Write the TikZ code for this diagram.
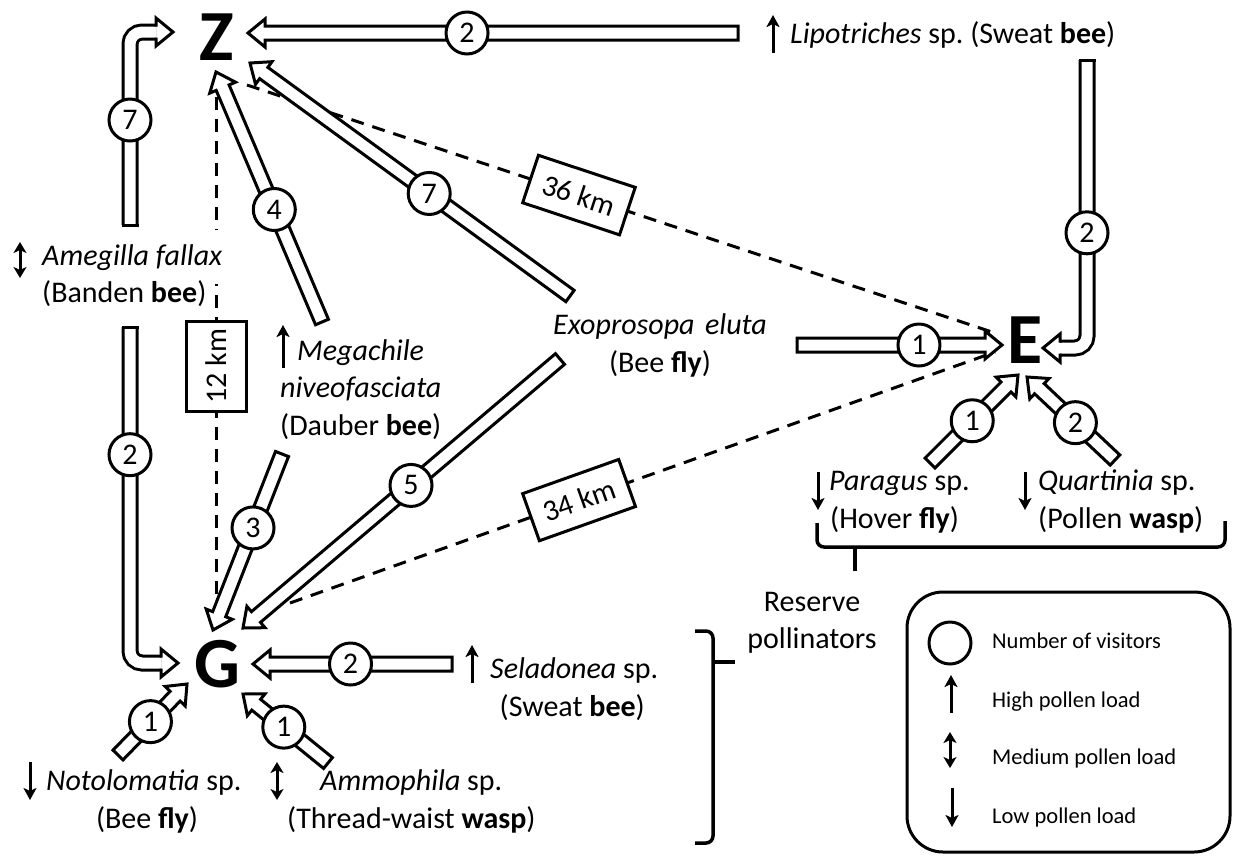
\documentclass[tikz,border=0pt]{standalone}
\usepackage{fontspec}
\setmainfont{Carlito}
\usetikzlibrary{calc,arrows.meta}

% block arrow geometry (half shaft width, half head width, head length)
\newcommand\baBW{7pt}
\newcommand\baHW{14pt}
\newcommand\baHL{17pt}

\tikzset{
  outl/.style={line width=3pt},
  blk/.style={outl, fill=white, line join=miter},
  dbl/.style={line width=3pt, double=white, double distance=11pt, rounded corners=12pt},
  num/.style={circle, draw, line width=3pt, fill=white, minimum size=42pt, inner sep=0pt,
              font=\fontsize{30}{32}\selectfont},
  big/.style={font=\fontsize{72}{72}\selectfont\bfseries, inner sep=0pt},
  lbl/.style={font=\fontsize{30}{39}\selectfont, inner sep=0pt},
  leg/.style={font=\fontsize{22.5}{27}\selectfont, inner sep=0pt, anchor=base west},
  dsh/.style={line width=3pt, dash pattern=on 13pt off 9pt},
  kmbox/.style={solid, draw, line width=3pt, fill=white, inner sep=0pt,
                minimum width=102pt, minimum height=50pt, font=\fontsize{30}{36}\selectfont},
  load/.style={line width=3pt, -{Stealth[length=12pt,width=13pt,inset=3pt]}},
  loadud/.style={line width=3pt, {Stealth[length=11pt,width=13pt,inset=3pt]}-{Stealth[length=11pt,width=13pt,inset=3pt]}},
  brc/.style={line width=3.5pt, rounded corners=7pt},
}

% straight block arrow: tail, tip, position of the count circle, count
\newcommand\blockarrow[4]{%
  \coordinate (ba-h) at ($(#2)!\baHL!(#1)$);
  \draw[blk] ($(#1)!\baBW!90:(#2)$) -- ($(ba-h)!\baBW!90:(#2)$) -- ($(ba-h)!\baHW!90:(#2)$)
    -- (#2) -- ($(ba-h)!\baHW!-90:(#2)$) -- ($(ba-h)!\baBW!-90:(#2)$) -- ($(#1)!\baBW!-90:(#2)$) -- cycle;
  \path (#1) -- (#2) node[num, pos=#3] (#1-n) {#4};
}

% block arrow with one rounded bend: tail, bend, tip, position of the count circle, count
\newcommand\bentarrow[5]{%
  \coordinate (ba-h) at ($(#3)!\baHL!(#2)$);
  \draw[dbl] (#1) -- (#2) -- (ba-h);
  \draw[outl, line cap=rect] ($(#1)!\baBW!90:(#2)$) -- ($(#1)!\baBW!-90:(#2)$);
  \draw[outl, line cap=rect] ($(ba-h)!\baBW!90:(#3)$) -- ($(ba-h)!\baHW!90:(#3)$) -- (#3)
    -- ($(ba-h)!\baHW!-90:(#3)$) -- ($(ba-h)!\baBW!-90:(#3)$);
  \path (#1) -- (#2) node[num, pos=#4] (#1-n) {#5};
}

\begin{document}
\begin{tikzpicture}[x=1pt,y=-1pt]
\useasboundingbox (0,0) rectangle (1234,855);

% sites
\node[big, anchor=base] (Z) at (217,60) {Z};
\node[big, anchor=base] (E) at (1025,363) {E};
\node[big, anchor=base] (G) at (217,687) {G};

% distances between sites
\coordinate (zg-a) at (216,97);   \coordinate (zg-b) at (216,620);
\coordinate (ze-a) at (247,85);   \coordinate (ze-b) at (998,334);
\coordinate (ge-a) at (290,603);  \coordinate (ge-b) at (995,352);
\draw[dsh] (zg-a) -- node[kmbox, rotate=90, minimum width=90pt, minimum height=60pt, pos=0.515] (km12) {12 km} (zg-b);
\draw[dsh] (ze-a) -- node[kmbox, sloped, pos=0.442] (km36) {36 km} (ze-b);
\draw[dsh] (ge-a) -- node[kmbox, sloped, pos=0.41] (km34) {34 km} (ge-b);

% visitor flows
\coordinate (lipoZ-t) at (738,33);   \coordinate (lipoZ-h) at (248,33);
\coordinate (exoE-t) at (797,345);   \coordinate (exoE-h) at (1002,345);
\coordinate (megZ-t) at (322,322);   \coordinate (megZ-h) at (216,72);
\coordinate (exoZ-t) at (570,296);   \coordinate (exoZ-h) at (250,63);
\coordinate (megG-t) at (282,454);   \coordinate (megG-h) at (213,630);
\coordinate (exoG-t) at (560,359);   \coordinate (exoG-h) at (243,628);
\coordinate (paraE-t) at (930,463);  \coordinate (paraE-h) at (1018,375);
\coordinate (quarE-t) at (1115,460); \coordinate (quarE-h) at (1027,377);
\coordinate (selaG-t) at (452,664);  \coordinate (selaG-h) at (253,664);
\coordinate (notoG-t) at (118,755);  \coordinate (notoG-h) at (187,684);
\coordinate (ammoG-t) at (328,763);  \coordinate (ammoG-h) at (243,694);

\blockarrow{lipoZ-t}{lipoZ-h}{0.553}{2}
\blockarrow{exoE-t}{exoE-h}{0.595}{1}
\blockarrow{megZ-t}{megZ-h}{0.45}{4}
\blockarrow{exoZ-t}{exoZ-h}{0.44}{7}
\blockarrow{megG-t}{megG-h}{0.42}{3}
\blockarrow{exoG-t}{exoG-h}{0.47}{5}
\blockarrow{paraE-t}{paraE-h}{0.48}{1}
\blockarrow{quarE-t}{quarE-h}{0.45}{2}
\blockarrow{selaG-t}{selaG-h}{0.51}{2}
\blockarrow{notoG-t}{notoG-h}{0.47}{1}
\blockarrow{ammoG-t}{ammoG-h}{0.52}{1}

\coordinate (ameZ-t) at (130,225);  \coordinate (ameZ-c) at (130,32);   \coordinate (ameZ-h) at (173,32);
\coordinate (ameG-t) at (130,327);  \coordinate (ameG-c) at (130,663);  \coordinate (ameG-h) at (178,663);
\coordinate (lipoE-t) at (1087,60); \coordinate (lipoE-c) at (1087,348); \coordinate (lipoE-h) at (1043,348);
\bentarrow{ameZ-t}{ameZ-c}{ameZ-h}{0.544}{7}
\bentarrow{ameG-t}{ameG-c}{ameG-h}{0.38}{2}
\bentarrow{lipoE-t}{lipoE-c}{lipoE-h}{0.60}{2}

% pollinator names with pollen load
\draw[load] (773,53) -- (773,15);
\node[lbl, anchor=base west] (lipo) at (790,43) {\textit{Lipotriches} sp.\ (Sweat \textbf{bee})};

\draw[loadud] (20,242) -- (20,278);
\node[lbl, anchor=base west, fill=white, inner ysep=14pt] (ame1) at (42,265) {\textit{Amegilla fallax}};
\node[lbl, anchor=base west, fill=white, inner ysep=8pt] (ame2) at (42,302) {(Banden \textbf{bee})};

\draw[load] (283,368) -- (283,325);
\node[lbl, anchor=base west] (meg1) at (297,360) {\textit{Megachile}};
\node[lbl, anchor=base west] (meg2) at (280,397) {\textit{niveofasciata}};
\node[lbl, anchor=base west] (meg3) at (280,435) {(Dauber \textbf{bee})};

\node[lbl, anchor=base] (exo1) at (660,334) {\textit{Exoprosopa\hspace{0.35em}eluta}};
\node[lbl, anchor=base] (exo2) at (660,372) {(Bee \textbf{fly})};

\draw[load] (818,472) -- (818,510);
\node[lbl, anchor=base west] (para1) at (829,490) {\textit{Paragus} sp.};
\node[lbl, anchor=base west] (para2) at (830,528) {(Hover \textbf{fly})};

\draw[load] (1025,472) -- (1025,510);
\node[lbl, anchor=base west] (quar1) at (1038,490) {\textit{Quartinia} sp.};
\node[lbl, anchor=base west] (quar2) at (1038,528) {(Pollen \textbf{wasp})};

\draw[load] (472,683) -- (472,645);
\node[lbl, anchor=base west] (sela1) at (490,678) {\textit{Seladonea} sp.};
\node[lbl, anchor=base east] (sela2) at (645,716) {(Sweat \textbf{bee})};

\draw[load] (30,762) -- (30,800);
\node[lbl, anchor=base west] (noto1) at (46,790) {\textit{Notolomatia} sp.};
\node[lbl, anchor=base] (noto2) at (147,828) {(Bee \textbf{fly})};

\draw[loadud] (277,762) -- (277,800);
\node[lbl, anchor=base west] (ammo1) at (320,790) {\textit{Ammophila} sp.};
\node[lbl, anchor=base west] (ammo2) at (287,828) {(Thread-waist \textbf{wasp})};

% reserve pollinators
\draw[brc] (817,523) |- (1225,547) -- (1225,521);
\draw[brc] (855,547) -- (855,571);
\draw[brc] (695,631) -| (713,843) -- (695,843);
\draw[brc] (713,662) -- (735,662);
\node[lbl, anchor=base] (res1) at (812,611) {Reserve};
\node[lbl, anchor=base] (res2) at (812,648) {pollinators};

% key
\draw[line width=3pt, rounded corners=36pt] (907,592) rectangle (1230,852);
\node[circle, draw, line width=3pt, minimum size=42pt, inner sep=0pt] (keyc) at (950,643) {};
\node[leg] (key1) at (992,648) {Number of visitors};
\draw[load] (951,713) -- (951,675);
\node[leg] (key2) at (992,707) {High pollen load};
\draw[loadud] (950,732) -- (950,768);
\node[leg] (key3) at (992,764) {Medium pollen load};
\draw[load] (952,788) -- (952,827);
\node[leg] (key4) at (992,823) {Low pollen load};
\end{tikzpicture}
\end{document}
